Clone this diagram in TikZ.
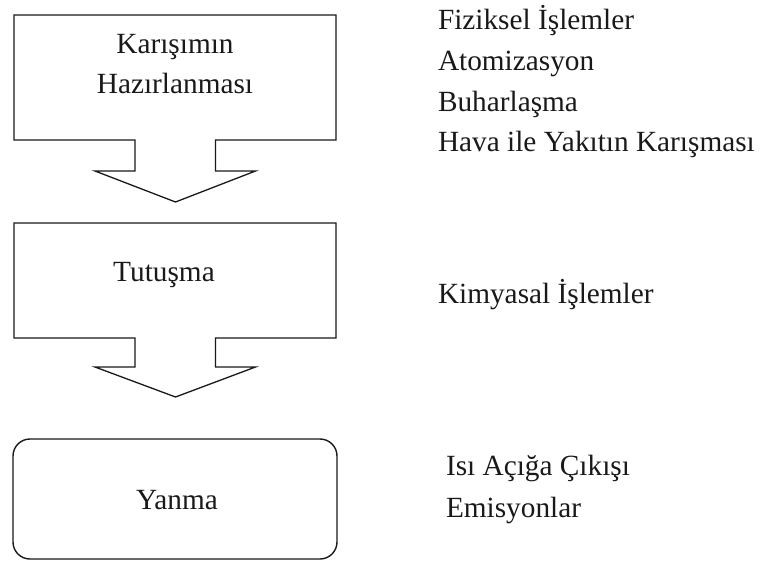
\documentclass[tikz,border=0pt]{standalone}
\usepackage{fontspec}
\setmainfont{Liberation Serif}
\usetikzlibrary{calc}
\begin{document}
\begin{tikzpicture}[x=1pt,y=-1pt,
  stagebox/.style={draw=none,minimum width=322pt,inner sep=0pt,outer sep=0pt},
  outline/.style={draw=black!90,line width=1.3pt,line join=miter},
  lbl/.style={inner sep=0pt,outer sep=0pt,text=black!90,font=\fontsize{29.3}{40}\selectfont},
  ctext/.style={lbl,anchor=base},
  rtext/.style={lbl,anchor=base west}]
\useasboundingbox (0,0) rectangle (764,562);

% stage boxes (named, outlines drawn below)
\node[stagebox,minimum height=125pt] (k1) at (175,77.5) {};
\node[stagebox,minimum height=115pt] (k2) at (175,280.5) {};
\node[draw=black!90,line width=1.4pt,rounded corners=17pt,minimum width=324pt,minimum height=120pt,inner sep=0pt] (k3) at (175,499) {};

% box 1 with arrow outline
\draw[outline] (k1.north west) -- (k1.north east) -- (k1.south east)
  -- ($(k1.south)+(40.5,0)$) -- ($(k1.south)+(40.5,31)$) -- ($(k1.south)+(80.5,31)$)
  -- ($(k1.south)+(0.5,62)$) -- ($(k1.south)+(-80,31)$) -- ($(k1.south)+(-40,31)$)
  -- ($(k1.south)+(-40,0)$) -- (k1.south west) -- cycle;

% box 2 with arrow outline
\draw[outline] (k2.north west) -- (k2.north east) -- (k2.south east)
  -- ($(k2.south)+(40.5,0)$) -- ($(k2.south)+(40.5,29)$) -- ($(k2.south)+(80.5,29)$)
  -- ($(k2.south)+(0.5,59)$) -- ($(k2.south)+(-80,29)$) -- ($(k2.south)+(-40,29)$)
  -- ($(k2.south)+(-40,0)$) -- (k2.south west) -- cycle;

% texts inside boxes
\node[ctext] (t1a) at (175,53) {Karışımın};
\node[ctext] (t1b) at (175,93) {Hazırlanması};
\node[ctext] (t2) at (164,281) {Tutuşma};
\node[ctext] (t3) at (177,509) {Yanma};

% right-hand descriptions
\node[rtext] (r1) at (438,30) {Fiziksel İşlemler};
\node[rtext] (r2) at (438,70.5) {Atomizasyon};
\node[rtext] (r3) at (438,111) {Buharlaşma};
\node[rtext] (r4) at (438,151.5) {Hava ile Yakıtın Karışması};
\node[rtext] (r5) at (438,303) {Kimyasal İşlemler};
\node[rtext] (r6) at (446,475) {Isı Açığa Çıkışı};
\node[rtext] (r7) at (446,517) {Emisyonlar};
\end{tikzpicture}
\end{document}
